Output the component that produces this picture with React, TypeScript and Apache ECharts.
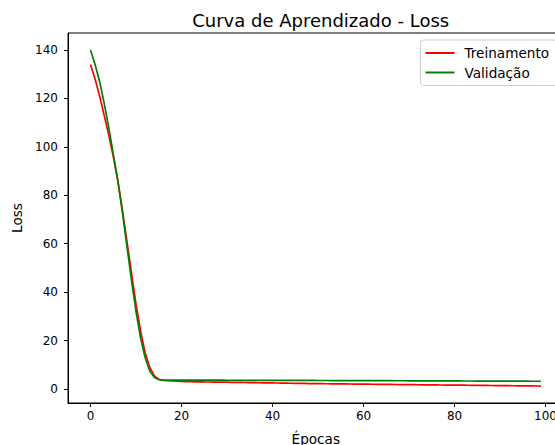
import React, { useEffect, useRef } from "react";
import * as echarts from "echarts";

const epochs: number[] = Array.from({ length: 100 }, (_, i) => i);

const trainLoss: number[] = [
  134, 128, 121, 113, 105, 96, 86, 74, 61, 48, 35, 24, 15, 9, 5.5, 4, 3.6,
  3.4, 3.3, 3.2, 3.1, 3.05, 3.0, 2.98, 2.95, 2.92, 2.9, 2.87, 2.85, 2.82,
  2.8, 2.77, 2.74, 2.71, 2.68, 2.65, 2.62, 2.59, 2.56, 2.53,
  2.5, 2.47, 2.44, 2.41, 2.38, 2.35, 2.32, 2.29, 2.26, 2.23,
  2.2, 2.18, 2.16, 2.14, 2.12, 2.1, 2.08, 2.06, 2.04, 2.02,
  2.0, 1.98, 1.96, 1.94, 1.92, 1.9, 1.88, 1.86, 1.84, 1.82,
  1.8, 1.78, 1.76, 1.74, 1.72, 1.7, 1.68, 1.66, 1.64, 1.62,
  1.6, 1.58, 1.56, 1.54, 1.52, 1.5, 1.48, 1.46, 1.44, 1.42,
  1.4, 1.38, 1.36, 1.34, 1.32, 1.3, 1.28, 1.26, 1.24, 1.2,
];

const valLoss: number[] = [
  140, 134, 127, 118, 108, 97, 86, 73, 59, 45, 32, 21, 13, 7.5, 4.8, 3.9, 3.7,
  3.7, 3.7, 3.68, 3.68, 3.67, 3.66, 3.66, 3.65, 3.65, 3.64, 3.64, 3.63, 3.63,
  3.62, 3.62, 3.61, 3.61, 3.6, 3.6, 3.59, 3.59, 3.58, 3.58,
  3.57, 3.57, 3.56, 3.56, 3.55, 3.55, 3.54, 3.54, 3.53, 3.53,
  3.52, 3.51, 3.51, 3.5, 3.5, 3.49, 3.48, 3.48, 3.47, 3.47,
  3.46, 3.45, 3.45, 3.44, 3.43, 3.43, 3.42, 3.41, 3.41, 3.4,
  3.39, 3.39, 3.38, 3.37, 3.37, 3.36, 3.35, 3.35, 3.34, 3.33,
  3.33, 3.32, 3.31, 3.31, 3.3, 3.29, 3.29, 3.28, 3.27, 3.27,
  3.26, 3.25, 3.25, 3.24, 3.23, 3.23, 3.22, 3.21, 3.21, 3.2,
];

const xTicks: number[] = [0, 20, 40, 60, 80, 100];
const yTicks: number[] = [0, 20, 40, 60, 80, 100, 120, 140];

const FONT = "DejaVu Sans";

export default function App() {
  const ref = useRef<HTMLDivElement>(null);
  useEffect(() => {
    if (!ref.current) return;
    const chart = echarts.init(ref.current, null, { renderer: "svg" });
    const axisCommon = {
      type: "value" as const,
      splitLine: { show: false },
      axisLine: { show: true, onZero: false, lineStyle: { color: "#000", width: 1 } },
      axisTick: { show: true, inside: false, length: 4, lineStyle: { color: "#000", width: 1 } },
    };
    chart.setOption({
      animation: false,
      backgroundColor: "#fff",
      title: {
        text: "Curva de Aprendizado - Loss",
        left: 315.7,
        top: 6,
        textAlign: "center",
        textStyle: { fontFamily: FONT, fontSize: 18, fontWeight: "normal", color: "#000" },
      },
      legend: {
        orient: "vertical",
        left: 420.5,
        top: 40,
        padding: [6, 8, 6, 5],
        itemGap: 5.5,
        itemWidth: 29,
        itemHeight: 2,
        icon: "rect",
        borderColor: "#ccc",
        borderWidth: 1,
        borderRadius: 3,
        backgroundColor: "rgba(255,255,255,0.8)",
        textStyle: { fontFamily: FONT, fontSize: 13.6, color: "#000", padding: [0, 0, 0, 5] },
        data: ["Treinamento", "Validação"],
      },
      grid: {
        left: 68,
        top: 33,
        right: -8.5,
        bottom: 42,
        show: true,
        borderColor: "#000",
        borderWidth: 1,
        containLabel: false,
        outerBoundsMode: "none",
      },
      xAxis: {
        ...axisCommon,
        min: -4.95,
        max: 103.95,
        axisTick: { ...axisCommon.axisTick, customValues: xTicks },
        axisLabel: {
          customValues: xTicks,
          margin: 7,
          fontFamily: FONT,
          fontSize: 12,
          color: "#000",
        },
        name: "Épocas",
        nameLocation: "middle",
        nameGap: 29,
        nameTextStyle: { fontFamily: FONT, fontSize: 13.6, color: "#000" },
      },
      yAxis: {
        ...axisCommon,
        min: -5.78,
        max: 147.0,
        axisTick: { ...axisCommon.axisTick, customValues: yTicks },
        axisLabel: {
          customValues: yTicks,
          margin: 10,
          fontFamily: FONT,
          fontSize: 12,
          color: "#000",
        },
        name: "Loss",
        nameLocation: "middle",
        nameGap: 43,
        nameRotate: 90,
        nameTextStyle: { fontFamily: FONT, fontSize: 13.6, color: "#000" },
      },
      series: [
        {
          name: "Treinamento",
          type: "line",
          data: epochs.map((e, i) => [e, trainLoss[i]]),
          showSymbol: false,
          symbol: "none",
          color: "#ff0000",
          lineStyle: { color: "#ff0000", width: 1.7 },
        },
        {
          name: "Validação",
          type: "line",
          data: epochs.map((e, i) => [e, valLoss[i]]),
          showSymbol: false,
          symbol: "none",
          color: "#008000",
          lineStyle: { color: "#008000", width: 1.7 },
        },
      ],
    });
    return () => chart.dispose();
  }, []);
  return (
    <div
      style={{ position: "fixed", left: 0, top: 0, width: 555, height: 445, overflow: "hidden", background: "#fff" }}
    >
      <div ref={ref} style={{ width: 555, height: 445 }} />
    </div>
  );
}
